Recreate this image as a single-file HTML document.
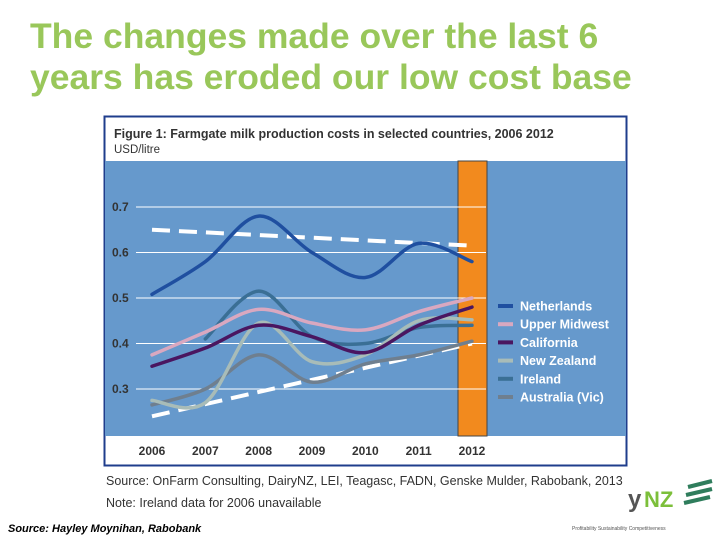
<!DOCTYPE html>
<html><head><meta charset="utf-8"><style>
body{margin:0;width:720px;height:540px;background:#fff;position:relative;overflow:hidden;font-family:"Liberation Sans",sans-serif}
.t{position:absolute;left:30px;top:16px;font-size:35.5px;font-weight:bold;color:#99c75a;line-height:41px}
</style></head><body>
<div class="t">The changes made over the last 6<br>years has eroded our low cost base</div>
<svg width="720" height="540" style="position:absolute;left:0;top:0">
<rect x="104.5" y="116.5" width="522" height="349" fill="#fff" stroke="#1f3d8c" stroke-width="2"/>
<rect x="105" y="161" width="521" height="275" fill="#6699cc"/>
<rect x="458" y="161" width="29" height="275" fill="#f28a1e" stroke="#444" stroke-width="1"/>
<text x="114" y="138" font-size="12.5" font-weight="bold" fill="#333">Figure 1: Farmgate milk production costs in selected countries, 2006 2012</text>
<text x="114" y="153" font-size="11.5" fill="#333">USD/litre</text>
<g id="grid"></g><g id="lines"></g><g id="legend"></g>
<text x="106" y="485" font-size="12.5" fill="#333">Source: OnFarm Consulting, DairyNZ, LEI, Teagasc, FADN, Genske Mulder, Rabobank, 2013</text>
<text x="106" y="507" font-size="12.5" fill="#333">Note: Ireland data for 2006 unavailable</text>
<text x="8" y="532" font-size="11" font-style="italic" font-weight="bold" fill="#000">Source: Hayley Moynihan, Rabobank</text>
<text x="628" y="507" font-size="24" font-weight="bold" fill="#555">y</text>
<text x="644" y="507" font-size="22" font-weight="bold" fill="#7cbf3a">NZ</text>
<path d="M688 487 l24 -6 M686 495 l26 -6 M684 503 l26 -6" stroke="#2f7d5c" stroke-width="4"/>
<text x="572" y="530" font-size="5" fill="#555">Profitability Sustainability Competitiveness</text>
</svg>
<script>
const years=["2006","2007","2008","2009","2010","2011","2012"];
const ticks=[0.3,0.4,0.5,0.6,0.7];
const netherlands=[0.508,0.58,0.68,0.60,0.545,0.62,0.58];
const upperMidwest=[0.375,0.425,0.475,0.445,0.43,0.47,0.50];
const california=[0.35,0.39,0.44,0.415,0.38,0.44,0.48];
const newZealand=[0.275,0.27,0.445,0.36,0.375,0.45,0.452];
const ireland=[null,0.41,0.515,0.415,0.40,0.435,0.44];
const australia=[0.265,0.30,0.375,0.315,0.355,0.375,0.405];
const trendHigh=[0.65,0.615];
const trendLow=[0.24,0.40];
const NS="http://www.w3.org/2000/svg";
const X=i=>152+i*53.33, Y=v=>207+(0.7-v)*455;
function mk(t,a,p){const e=document.createElementNS(NS,t);for(const k in a)e.setAttribute(k,a[k]);p.appendChild(e);return e;}
const g=document.getElementById('grid'),L=document.getElementById('lines'),lg=document.getElementById('legend');
ticks.forEach(t=>{const l=mk('line',{x1:136,x2:486,y1:Y(t),y2:Y(t),stroke:'#fff','stroke-width':1},g);

const tx=mk('text',{x:112,y:Y(t)+4,'font-size':12,'font-weight':'bold',fill:'#333'},g);tx.textContent=t.toFixed(1);
});
years.forEach((y,i)=>{const tx=mk('text',{x:X(i),y:455,'font-size':12,'font-weight':'bold',fill:'#333','text-anchor':'middle'},g);tx.textContent=y;
});
function smooth(pts){let d=`M${pts[0][0]},${pts[0][1]}`;for(let i=0;i<pts.length-1;i++){const p0=pts[i-1]||pts[i],p1=pts[i],p2=pts[i+1],p3=pts[i+2]||p2;
d+=` C${p1[0]+(p2[0]-p0[0])/6},${p1[1]+(p2[1]-p0[1])/6} ${p2[0]-(p3[0]-p1[0])/6},${p2[1]-(p3[1]-p1[1])/6} ${p2[0]},${p2[1]}`;}return d;}
const series=[["Netherlands",netherlands,"#1f4fa0"],["Upper Midwest",upperMidwest,"#d9a8c0"],["California",california,"#4a1660"],["New Zealand",newZealand,"#a8bcb8"],["Ireland",ireland,"#3a6f95"],["Australia (Vic)",australia,"#6f7f8f"]];
function dash(vals,name){const l=mk('line',{x1:X(0),y1:Y(vals[0]),x2:X(6),y2:Y(vals[1]),stroke:'#fff','stroke-width':4,'stroke-dasharray':'18 9'},L);
}
dash(trendHigh,'trend-high');dash(trendLow,'trend-low');
series.slice().reverse().forEach(([n,v,c])=>{const pts=[];v.forEach((d,i)=>{if(d!=null)pts.push([X(i),Y(d)])});
const p=mk('path',{d:smooth(pts),fill:'none',stroke:c,'stroke-width':3.5,'stroke-linecap':'round'},L);
});
series.forEach(([n,v,c],i)=>{const y=306+i*18.2;mk('line',{x1:498,x2:513,y1:y,y2:y,stroke:c,'stroke-width':4},lg);
const tx=mk('text',{x:520,y:y+4.5,'font-size':12.5,'font-weight':'bold',fill:'#fff'},lg);tx.textContent=n;
});
</script>
</body></html>
